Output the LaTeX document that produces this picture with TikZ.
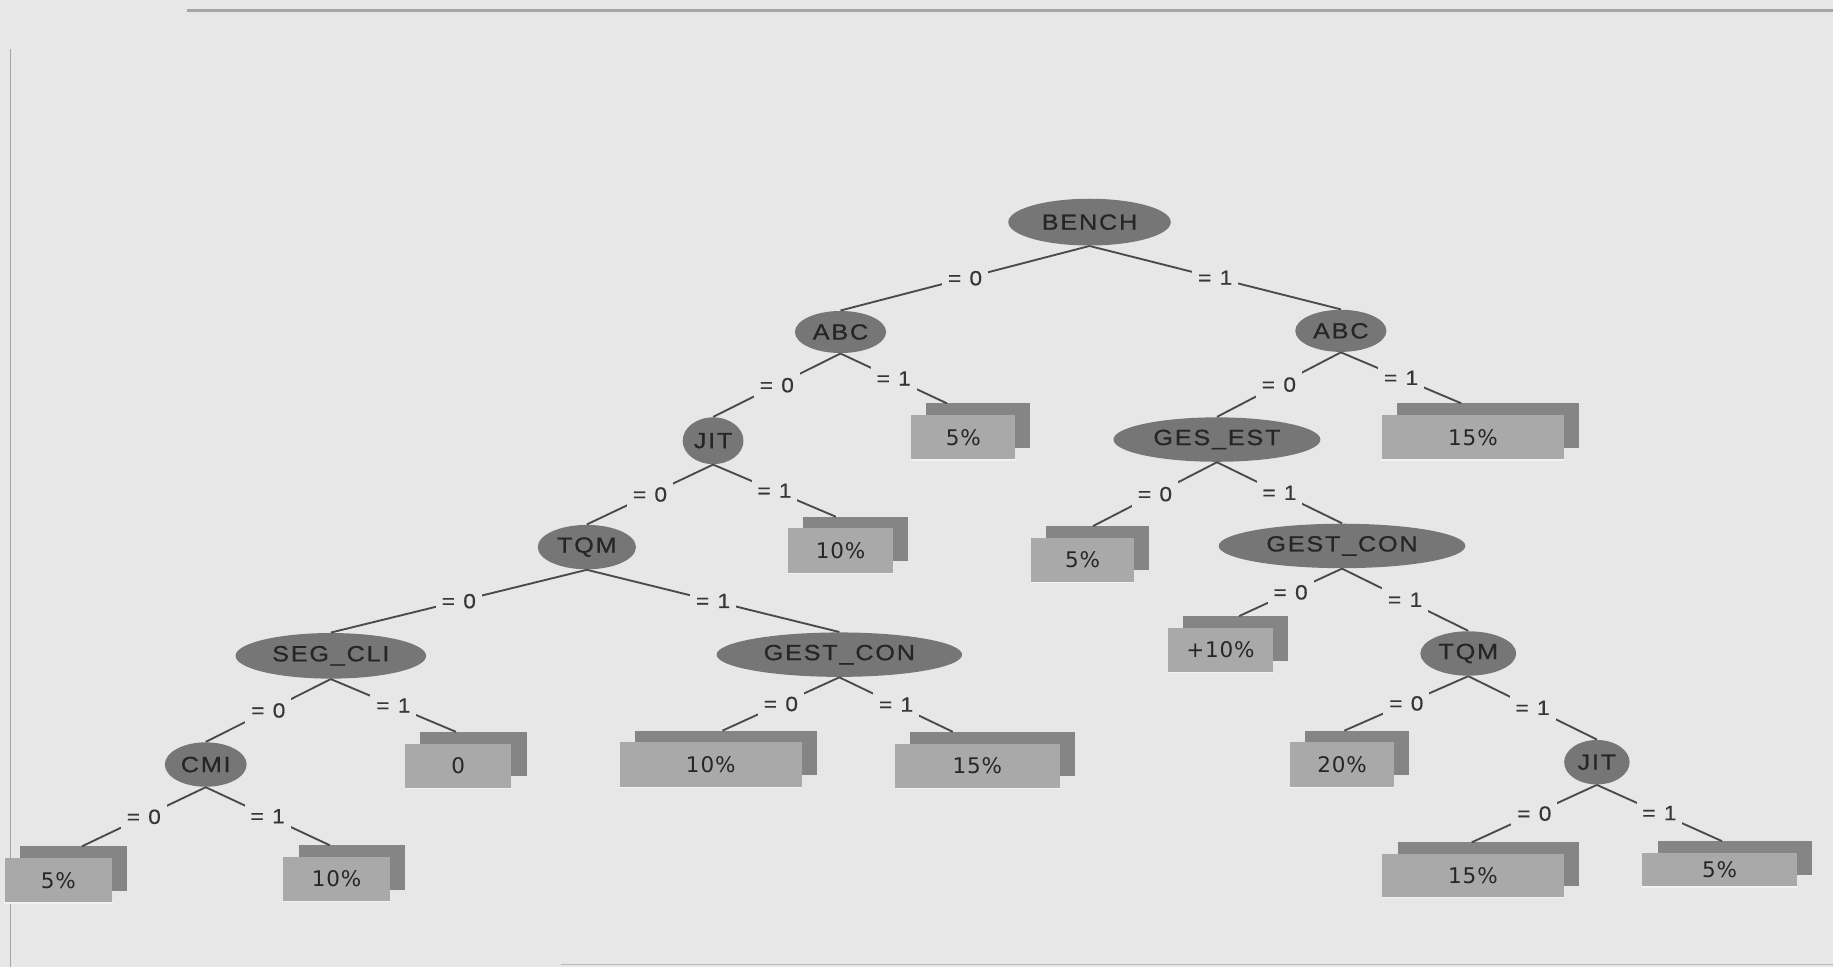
\documentclass[tikz,border=0pt]{standalone}
\usepackage{fontspec}
\setmainfont{Liberation Sans}
\newfontfamily\ellfont[FakeStretch=1.15,LetterSpace=8,FakeBold=0.6]{Liberation Sans}
\newfontfamily\lblfont[FakeStretch=1.1,LetterSpace=10,FakeBold=0.4]{Liberation Sans}
\newfontfamily\leaffont[LetterSpace=4]{DejaVu Sans}
\usetikzlibrary{shapes.geometric}

\definecolor{bgcol}{HTML}{E7E7E7}
\definecolor{ellcol}{HTML}{767676}
\definecolor{elltext}{HTML}{252525}
\definecolor{frontcol}{HTML}{A9A9A9}
\definecolor{backcol}{HTML}{858585}
\definecolor{edgecol}{HTML}{4A4A4A}
\definecolor{lbltext}{HTML}{363636}
\definecolor{framecol}{HTML}{A6A6A6}

% one unit = one pixel of the drawing
\newdimen\pxu
\pxu=0.5pt

\tikzset{
  split/.style={ellipse, fill=ellcol, inner sep=0pt, text=elltext,
    font=\ellfont\fontsize{9.4}{10}\selectfont},
  frontbox/.style={rectangle, fill=frontcol, inner sep=0pt, text=black!85,
    font=\leaffont\fontsize{9.2}{10}\selectfont},
  backbox/.style={rectangle, fill=backcol, inner sep=0pt},
  edge/.style={draw=edgecol, line width=0.8pt},
  lbl/.style={fill=bgcol, inner sep=2.5pt, text=lbltext,
    font=\lblfont\fontsize{8.8}{10}\selectfont},
  shine/.style={draw=white!85!frontcol, line width=0.6pt},
}

% split node: name, x, y, width, height, text
\newcommand\splitnode[6]{%
  \node[split, minimum width=#4\pxu, minimum height=#5\pxu] (#1) at (#2,#3) {#6};}

% leaf: name, x, y, width, height, text, x of the connector end
\newcommand\leafnode[7]{%
  \node[backbox, minimum width=#4\pxu, minimum height=#5\pxu] (#1-b) at (#2+13,#3-10) {};
  \node[frontbox, minimum width=#4\pxu, minimum height=#5\pxu] (#1) at (#2,#3) {#6};
  \draw[shine] (#1.south west) -- (#1.south east);
  \coordinate (#1-a) at (#7,#3-#5/2-10);}

\begin{document}
\begin{tikzpicture}[x=0.5pt, y=-0.5pt]
  % page and frame
  \fill[bgcol] (0,0) rectangle (1568,827);
  \useasboundingbox (0,0) rectangle (1568,827);
  \coordinate (ft0) at (160,9);   \coordinate (ft1) at (1568,9);
  \coordinate (fl0) at (9,42);    \coordinate (fl1) at (9,827);
  \coordinate (fb0) at (480,825); \coordinate (fb1) at (1568,825);
  \draw[framecol, line width=1.1pt] (ft0) -- (ft1);
  \draw[framecol, line width=0.8pt] (fl0) -- (fl1);
  \draw[framecol!70!bgcol, line width=0.8pt] (fb0) -- (fb1);

  % decision nodes
  \splitnode{bench}{932}{190}{139}{40}{BENCH}
  \splitnode{abcL}{719}{284}{78}{36}{ABC}
  \splitnode{abcR}{1147}{283}{78}{36}{ABC}
  \splitnode{jitA}{610}{377}{52}{40}{JIT}
  \splitnode{gesest}{1041}{376}{177}{38}{GES\_EST}
  \splitnode{tqmA}{502}{468}{84}{38}{TQM}
  \splitnode{gconR}{1148}{467}{211}{38}{GEST\_CON}
  \splitnode{segcli}{283}{561}{163}{39}{SEG\_CLI}
  \splitnode{gconL}{718}{560}{210}{38}{GEST\_CON}
  \splitnode{tqmB}{1256}{559}{82}{38}{TQM}
  \splitnode{cmi}{176}{654}{70}{38}{CMI}
  \splitnode{jitB}{1366}{652}{56}{38}{JIT}

  % leaves
  \leafnode{l1}{824}{374}{89}{38}{5\%}{810}
  \leafnode{l2}{1260}{374}{156}{38}{15\%}{1250}
  \leafnode{l3}{719}{471}{90}{38}{10\%}{715}
  \leafnode{l4}{926}{479}{88}{38}{5\%}{935}
  \leafnode{l5}{1044}{556}{90}{38}{+10\%}{1060}
  \leafnode{l6}{392}{655}{91}{38}{0}{390}
  \leafnode{l7}{608}{654}{156}{38}{10\%}{618}
  \leafnode{l8}{836}{655}{141}{38}{15\%}{815}
  \leafnode{l9}{1148}{654}{89}{38}{20\%}{1150}
  \leafnode{l10}{50}{753}{92}{38}{5\%}{70}
  \leafnode{l11}{288}{752}{91}{38}{10\%}{282}
  \leafnode{l12}{1260}{749}{155}{37}{15\%}{1259}
  \leafnode{l13}{1471}{744}{132}{29}{5\%}{1473}

  % branches
  \draw[edge] (bench.south) -- node[lbl]{= 0} (abcL.north);
  \draw[edge] (bench.south) -- node[lbl]{= 1} (abcR.north);
  \draw[edge] (abcL.south) -- node[lbl]{= 0} (jitA.north);
  \draw[edge] (abcL.south) -- node[lbl]{= 1} (l1-a);
  \draw[edge] (abcR.south) -- node[lbl]{= 0} (gesest.north);
  \draw[edge] (abcR.south) -- node[lbl]{= 1} (l2-a);
  \draw[edge] (jitA.south) -- node[lbl]{= 0} (tqmA.north);
  \draw[edge] (jitA.south) -- node[lbl]{= 1} (l3-a);
  \draw[edge] (gesest.south) -- node[lbl]{= 0} (l4-a);
  \draw[edge] (gesest.south) -- node[lbl]{= 1} (gconR.north);
  \draw[edge] (tqmA.south) -- node[lbl]{= 0} (segcli.north);
  \draw[edge] (tqmA.south) -- node[lbl]{= 1} (gconL.north);
  \draw[edge] (gconR.south) -- node[lbl]{= 0} (l5-a);
  \draw[edge] (gconR.south) -- node[lbl]{= 1} (tqmB.north);
  \draw[edge] (segcli.south) -- node[lbl]{= 0} (cmi.north);
  \draw[edge] (segcli.south) -- node[lbl]{= 1} (l6-a);
  \draw[edge] (gconL.south) -- node[lbl]{= 0} (l7-a);
  \draw[edge] (gconL.south) -- node[lbl]{= 1} (l8-a);
  \draw[edge] (tqmB.south) -- node[lbl]{= 0} (l9-a);
  \draw[edge] (tqmB.south) -- node[lbl]{= 1} (jitB.north);
  \draw[edge] (cmi.south) -- node[lbl]{= 0} (l10-a);
  \draw[edge] (cmi.south) -- node[lbl]{= 1} (l11-a);
  \draw[edge] (jitB.south) -- node[lbl]{= 0} (l12-a);
  \draw[edge] (jitB.south) -- node[lbl]{= 1} (l13-a);
\end{tikzpicture}
\end{document}
